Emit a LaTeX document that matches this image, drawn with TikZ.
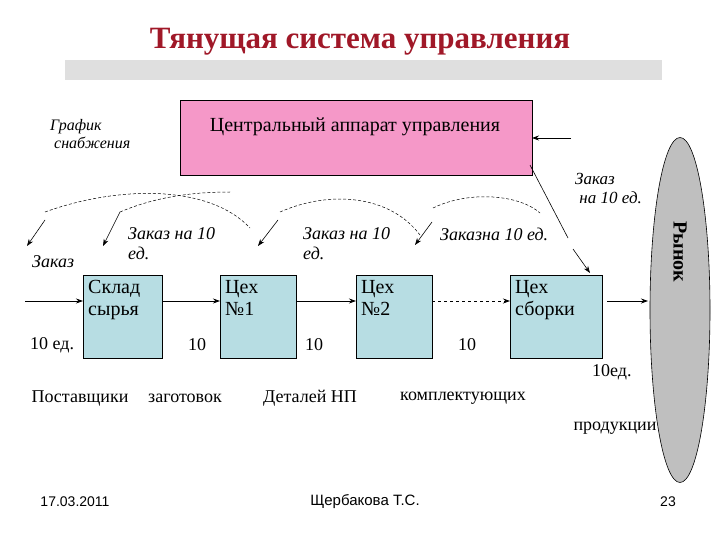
\documentclass[tikz,border=0pt]{standalone}
\usepackage{fontspec}
\setmainfont{Liberation Serif}
\newfontfamily\sansf{Liberation Sans}
\usetikzlibrary{arrows.meta,shapes.geometric}
\definecolor{boxc}{HTML}{B7DDE3}
\definecolor{pinkc}{HTML}{F598C8}
\definecolor{titc}{HTML}{A01828}
\begin{document}
\begin{tikzpicture}[x=1pt,y=-1pt,
  shop/.style={draw=black,fill=boxc,line width=0.6pt},
  lbl/.style={font=\fontsize{18}{20}\selectfont\itshape,align=left,anchor=west,inner sep=0},
  num/.style={font=\fontsize{18}{20}\selectfont,anchor=west,inner sep=0},
  arr/.style={-{Stealth[length=7pt,width=5pt]},line width=0.8pt},
  darc/.style={densely dashed,line width=0.5pt},
  btxt/.style={font=\fontsize{20}{22}\selectfont,align=left,anchor=north west,inner sep=0}]
\useasboundingbox (0,0) rectangle (720,540);
\node[font=\fontsize{31}{33}\selectfont\bfseries,text=titc] (title) at (360,42) {Тянущая система управления};
\fill[gray!25] (65,60) rectangle (662,80);
\node[lbl,font=\fontsize{16}{18}\selectfont\itshape] (graf) at (50,134) {График\\\ снабжения};
\draw[fill=pinkc,line width=0.6pt] (180,100) rectangle (532,175);
\node[btxt,anchor=center] (cent) at (355,127) {Центральный аппарат управления};
\coordinate (ca) at (532,138);
\coordinate (cb) at (571,138);
\draw[arr] (cb) -- (ca);
\node[draw,fill=gray!50,ellipse,minimum width=60,minimum height=345,line width=0.6pt] (mkt) at (680,310) {};
\node[rotate=-90,font=\fontsize{20}{22}\selectfont\bfseries] (mktl) at (680,252) {Рынок};
\draw[shop] (83,275) rectangle (162,358); \node[btxt] (s0) at (88,280) {Склад\\сырья};
\draw[shop] (220,275) rectangle (296,358); \node[btxt] (s1) at (225,280) {Цех\\№1};
\draw[shop] (356,275) rectangle (432,358); \node[btxt] (s2) at (361,280) {Цех\\№2};
\draw[shop] (510,275) rectangle (602,358); \node[btxt] (s3) at (515,280) {Цех\\сборки};
\coordinate (in) at (25,301);
\draw[arr] (in) -- (83,301);
\draw[arr] (162,301) -- (220,301);
\draw[arr] (296,301) -- (356,301);
\draw[arr,dashed] (432,301) -- (510,301);
\draw[arr] (607,301) -- (648,301);
\draw[line width=0.6pt] (530,165) -- (568,238);
\draw[arr,line width=0.6pt] (573,249) -- (590,273);
\node[lbl,font=\fontsize{17}{19}\selectfont\itshape] (zm) at (575,188) {Заказ\\\ на 10 ед.};
\draw[darc] (45,212) .. controls (120,185) and (210,185) .. (250,228);
\draw[darc] (120,212) .. controls (160,195) and (200,192) .. (230,192);
\draw[darc] (280,212) .. controls (330,190) and (390,195) .. (420,235);
\draw[darc] (433,208) .. controls (470,190) and (520,195) .. (540,213);
\draw[arr,line width=0.6pt] (45,220) -- (27,246);
\draw[arr,line width=0.6pt] (120,212) -- (103,246);
\draw[arr,line width=0.6pt] (278,220) -- (258,246);
\draw[arr,line width=0.6pt] (432,222) -- (415,245);
\node[lbl] (z0) at (32,262) {Заказ};
\node[lbl] (z1) at (128,244) {Заказ на 10\\ед.};
\node[lbl] (z2) at (303,244) {Заказ на 10\\ед.};
\node[lbl] (z3) at (440,234) {Заказна 10 ед.};
\node[num] (n0) at (30,345) {10 ед.};
\node[num] (n1) at (188,345) {10};
\node[num] (n2) at (305,345) {10};
\node[num] (n3) at (458,345) {10};
\node[num] (n4) at (592,372) {10ед.};
\node[num,anchor=center] (b0) at (80,398) {Поставщики};
\node[num,anchor=center] (b1) at (185,398) {заготовок};
\node[num,anchor=center] (b2) at (310,398) {Деталей НП};
\node[num,anchor=center] (b3) at (463,398) {комплектующих};
\node[num,anchor=center] (b4) at (615,428) {продукции};
\node[font=\sansf\fontsize{14}{16}\selectfont] (f0) at (75,502) {17.03.2011};
\node[font=\sansf\fontsize{15}{17}\selectfont] (f1) at (365,502) {Щербакова Т.С.};
\node[font=\sansf\fontsize{14}{16}\selectfont] (f2) at (668,502) {23};
\end{tikzpicture}
\end{document}
